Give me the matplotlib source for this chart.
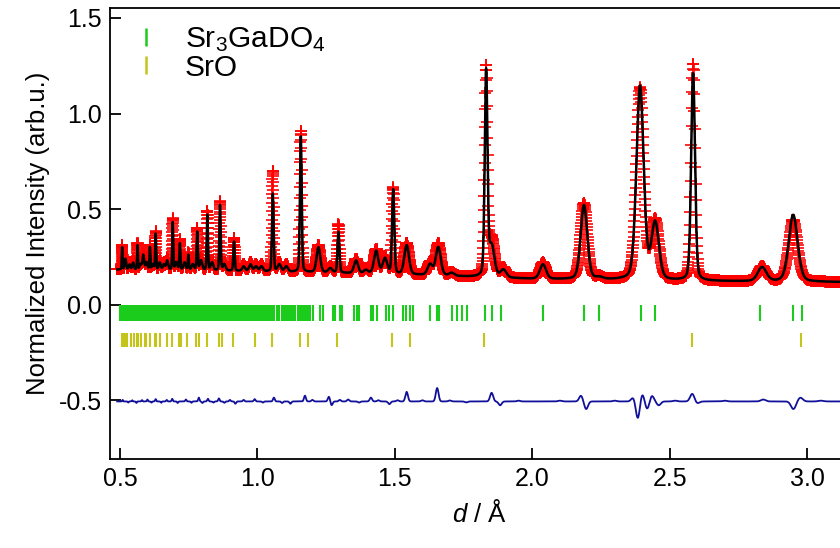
import numpy as np
import matplotlib
matplotlib.use('Agg')
import matplotlib.pyplot as plt
from matplotlib.lines import Line2D

bgD = [0.46, 0.8, 1.2, 1.6, 2.0, 2.5, 3.2]
bgLevel = [0.185, 0.18, 0.17, 0.155, 0.135, 0.125, 0.118]

# Peaks: position (A), observed top, calculated top, sharp (SrO) or broad
peakPos = [0.508, 0.520, 0.535, 0.548, 0.564, 0.575, 0.585, 0.597, 0.609, 0.620,
           0.630, 0.645, 0.660, 0.672, 0.692, 0.705, 0.718, 0.735, 0.749, 0.765,
           0.781, 0.795, 0.818, 0.835, 0.864, 0.880, 0.915, 0.950, 0.975, 0.995,
           1.015, 1.056, 1.080, 1.105, 1.158, 1.222, 1.265, 1.295, 1.359, 1.395,
           1.432, 1.464, 1.494, 1.543, 1.628, 1.658, 1.707, 1.832, 1.852, 1.895,
           2.039, 2.188, 2.244, 2.392, 2.447, 2.585, 2.836, 2.949]
obsTop = [0.31, 0.25, 0.22, 0.23, 0.32, 0.22, 0.27, 0.23, 0.31, 0.22,
          0.38, 0.23, 0.22, 0.24, 0.45, 0.23, 0.34, 0.23, 0.27, 0.22,
          0.40, 0.24, 0.49, 0.23, 0.54, 0.22, 0.35, 0.21, 0.22, 0.21,
          0.21, 0.70, 0.22, 0.21, 0.91, 0.31, 0.20, 0.42, 0.24, 0.19,
          0.29, 0.25, 0.61, 0.32, 0.22, 0.32, 0.17, 1.22, 0.34, 0.19,
          0.22, 0.53, 0.145, 1.13, 0.435, 1.26, 0.20, 0.445]
calcTop = [0.30, 0.24, 0.21, 0.22, 0.31, 0.21, 0.26, 0.22, 0.30, 0.21,
           0.37, 0.22, 0.21, 0.23, 0.43, 0.22, 0.32, 0.22, 0.26, 0.21,
           0.38, 0.23, 0.47, 0.22, 0.52, 0.21, 0.33, 0.20, 0.21, 0.20,
           0.20, 0.58, 0.21, 0.20, 0.88, 0.30, 0.19, 0.38, 0.23, 0.18,
           0.28, 0.24, 0.60, 0.31, 0.21, 0.30, 0.165, 1.21, 0.30, 0.18,
           0.21, 0.52, 0.14, 1.14, 0.42, 1.21, 0.195, 0.47]
isSharp = [1, 0, 0, 0, 1, 0, 0, 0, 1, 0,
           1, 0, 0, 0, 1, 0, 1, 0, 1, 0,
           1, 0, 1, 0, 1, 0, 1, 0, 0, 0,
           0, 1, 0, 0, 1, 0, 0, 1, 0, 0,
           0, 0, 1, 0, 0, 0, 0, 1, 0, 0,
           0, 0, 0, 0, 0, 1, 0, 0]

# Difference curve features (position, amplitude)
resPos = [0.51, 0.53, 0.545, 0.56, 0.58, 0.60, 0.615, 0.63, 0.65, 0.67,
          0.69, 0.71, 0.74, 0.76, 0.787, 0.80, 0.82, 0.84, 0.86, 0.88,
          0.90, 0.92, 0.95, 0.99, 1.02, 1.06, 1.09, 1.12, 1.173, 1.20,
          1.26, 1.27, 1.30, 1.33, 1.37, 1.413, 1.44, 1.48, 1.51, 1.543,
          1.60, 1.654, 1.70, 1.76, 1.852, 1.883, 1.95, 2.10, 2.177, 2.196,
          2.30, 2.367, 2.384, 2.400, 2.418, 2.435, 2.46, 2.52, 2.582, 2.60,
          2.70, 2.84, 2.95, 2.975, 3.05]
resAmp = [0.008, -0.006, 0.006, -0.008, 0.007, 0.01, -0.006, 0.012, -0.007, 0.008,
          0.014, -0.008, 0.01, -0.007, 0.02, -0.008, 0.014, -0.006, 0.016, -0.007,
          0.008, -0.012, 0.008, 0.012, -0.006, 0.02, -0.008, -0.012, 0.03, 0.008,
          0.025, -0.02, 0.008, 0.01, -0.006, 0.02, 0.006, -0.014, 0.006, 0.05,
          0.006, 0.07, 0.005, -0.005, 0.045, -0.02, 0.004, 0.004, 0.03, -0.04,
          0.004, 0.02, -0.09, 0.04, -0.04, 0.03, -0.02, 0.004, 0.04, -0.01,
          0.004, 0.01, -0.04, 0.02, 0.004]

# Reflection markers
sr3gado4Ticks = [0.502, 0.506, 0.511, 0.515, 0.519, 0.524, 0.528, 0.533, 0.537, 0.541,
                 0.546, 0.551, 0.555, 0.560, 0.564, 0.569, 0.573, 0.578, 0.583, 0.587,
                 0.592, 0.597, 0.602, 0.606, 0.611, 0.616, 0.621, 0.626, 0.631, 0.636,
                 0.641, 0.646, 0.652, 0.657, 0.662, 0.668, 0.673, 0.679, 0.684, 0.690,
                 0.696, 0.701, 0.707, 0.713, 0.719, 0.725, 0.731, 0.737, 0.743, 0.749,
                 0.756, 0.762, 0.769, 0.775, 0.782, 0.789, 0.796, 0.803, 0.810, 0.817,
                 0.824, 0.831, 0.838, 0.845, 0.850, 0.856, 0.861, 0.866, 0.871, 0.876,
                 0.881, 0.886, 0.891, 0.896, 0.901, 0.906, 0.911, 0.916, 0.920, 0.925,
                 0.930, 0.935, 0.940, 0.945, 0.950, 0.958, 0.963, 0.968, 0.973, 0.978,
                 0.983, 0.991, 0.996, 1.001, 1.006, 1.011, 1.016, 1.021, 1.027, 1.032,
                 1.038, 1.044, 1.050, 1.056, 1.061, 1.070, 1.080, 1.088, 1.095, 1.103,
                 1.110, 1.118, 1.125, 1.131, 1.137, 1.148, 1.155, 1.161, 1.167, 1.173,
                 1.179, 1.186, 1.193, 1.202, 1.228, 1.239, 1.274, 1.283, 1.300, 1.307,
                 1.352, 1.361, 1.370, 1.412, 1.422, 1.434, 1.468, 1.480, 1.492, 1.530,
                 1.541, 1.555, 1.566, 1.628, 1.654, 1.661, 1.707, 1.725, 1.743, 1.762,
                 1.828, 1.852, 1.888, 2.039, 2.188, 2.244, 2.394, 2.447, 2.830, 2.950,
                 2.980]
srOTicks = [0.506, 0.516, 0.519, 0.527, 0.541, 0.550, 0.563, 0.566, 0.577, 0.592,
            0.596, 0.608, 0.626, 0.630, 0.645, 0.672, 0.690, 0.716, 0.723, 0.745,
            0.778, 0.787, 0.816, 0.860, 0.872, 0.912, 0.993, 1.053, 1.154, 1.184,
            1.290, 1.490, 1.556, 1.824, 2.580, 2.979]


def background(d):
    return np.interp(d, bgD, bgLevel)


# pseudo-Voigt peak sum built from the peak table
def profile(d, tops):
    y = background(d)
    for pos, top, sharp in zip(peakPos, tops, isSharp):
        sigma = pos * (0.0027 if sharp else 0.0055)
        amp = top - background(pos)
        g = np.exp(-0.5 * ((d - pos) / sigma) ** 2)
        l = 1.0 / (1.0 + ((d - pos) / (1.2 * sigma)) ** 2)
        y = y + amp * (0.75 * g + 0.25 * l)
    return y


def difference(d):
    y = np.full_like(d, -0.505)
    for pos, amp in zip(resPos, resAmp):
        y = y + amp * np.exp(-0.5 * ((d - pos) / (0.003 * pos)) ** 2)
    return y


def main():
    plt.rcParams['font.family'] = ['Liberation Sans', 'DejaVu Sans']
    plt.rcParams['mathtext.fontset'] = 'custom'
    plt.rcParams['mathtext.rm'] = 'Liberation Sans'
    plt.rcParams['mathtext.it'] = 'Liberation Sans:italic'
    plt.rcParams['axes.unicode_minus'] = False

    d = np.geomspace(0.49, 3.15, 4600)
    obs = profile(d, obsTop)
    calc = profile(d, calcTop)
    diff = difference(d)

    fig = plt.figure(figsize=(8.4, 5.48), dpi=100)
    ax = fig.add_axes([0.131, 0.1624, 0.88, 0.823])

    ax.plot(d, obs, '+', color='#ff0000', ms=8, mew=1.3, alpha=0.9)
    ax.plot(d, calc, color='black', lw=1.8)
    ax.plot(d, diff, color='#10109a', lw=1.3)
    ax.vlines(sr3gado4Ticks, -0.083, 0.0, color='#1ccc1c', lw=1.5)
    ax.vlines(srOTicks, -0.22, -0.145, color='#c4c41a', lw=1.5)

    ax.set_xlim(0.464, 3.153)
    ax.set_ylim(-0.806, 1.552)
    ax.set_xticks([0.5, 1.0, 1.5, 2.0, 2.5, 3.0])
    ax.set_yticks([-0.5, 0.0, 0.5, 1.0, 1.5])
    ax.xaxis.set_major_formatter(matplotlib.ticker.FormatStrFormatter('%.1f'))
    ax.yaxis.set_major_formatter(matplotlib.ticker.FormatStrFormatter('%.1f'))
    ax.tick_params(direction='in', length=8, width=1.3, labelsize=18, pad=6)
    for s in ax.spines.values():
        s.set_linewidth(1.3)
    ax.set_xlabel('$d$ / Å', fontsize=18.5, labelpad=6)
    ax.set_ylabel('Normalized Intensity (arb.u.)', fontsize=18.5, labelpad=6)

    handles = [Line2D([], [], ls='none', marker='|', color='#1ccc1c', ms=13, mew=1.8),
               Line2D([], [], ls='none', marker='|', color='#c4c41a', ms=13, mew=1.8)]
    ax.legend(handles, ['Sr$_3$GaDO$_4$', 'SrO'], loc='upper left',
              bbox_to_anchor=(0.0, 1.015), frameon=False, fontsize=21.5,
              handlelength=0.8, handletextpad=0.9, labelspacing=0.0, borderpad=0.3)

    fig.savefig('out.png', dpi=100)


main()
